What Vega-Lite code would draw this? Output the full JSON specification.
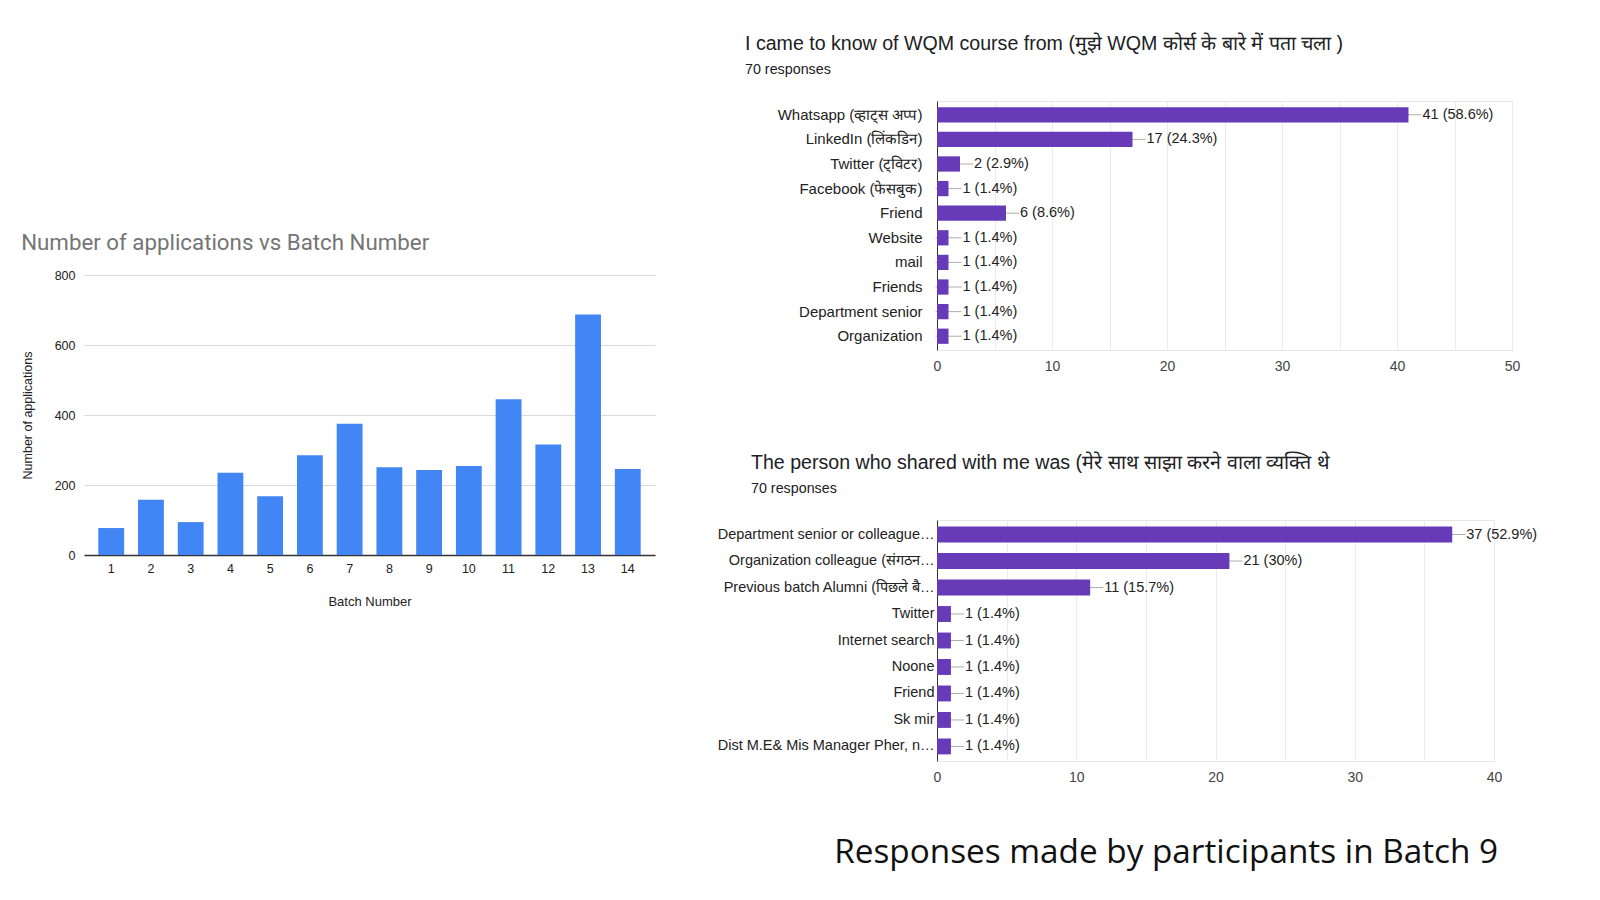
{
  "$schema": "https://vega.github.io/schema/vega-lite/v6.json",
  "background": "white",
  "padding": {"left": 21, "top": 33, "right": 0, "bottom": 20},
  "config": {"view": {"stroke": null}, "font": "Liberation Sans"},
  "datasets": {
    "batches": [
      {"batch": 1, "applications": 77},
      {"batch": 2, "applications": 158},
      {"batch": 3, "applications": 94},
      {"batch": 4, "applications": 235},
      {"batch": 5, "applications": 168},
      {"batch": 6, "applications": 285},
      {"batch": 7, "applications": 375},
      {"batch": 8, "applications": 251},
      {"batch": 9, "applications": 243},
      {"batch": 10, "applications": 254},
      {"batch": 11, "applications": 445},
      {"batch": 12, "applications": 316},
      {"batch": 13, "applications": 687},
      {"batch": 14, "applications": 246}
    ],
    "source": [
      {"source": "Whatsapp (व्हाट्स अप्प)", "responses": 41, "label": "41 (58.6%)"},
      {"source": "LinkedIn (लिंकडिन)", "responses": 17, "label": "17 (24.3%)"},
      {"source": "Twitter (ट्विटर)", "responses": 2, "label": "2 (2.9%)"},
      {"source": "Facebook (फेसबुक)", "responses": 1, "label": "1 (1.4%)"},
      {"source": "Friend", "responses": 6, "label": "6 (8.6%)"},
      {"source": "Website", "responses": 1, "label": "1 (1.4%)"},
      {"source": "mail", "responses": 1, "label": "1 (1.4%)"},
      {"source": "Friends", "responses": 1, "label": "1 (1.4%)"},
      {"source": "Department senior", "responses": 1, "label": "1 (1.4%)"},
      {"source": "Organization", "responses": 1, "label": "1 (1.4%)"}
    ],
    "person": [
      {"person": "Department senior or colleague…", "responses": 37, "label": "37 (52.9%)"},
      {"person": "Organization colleague (संगठन…", "responses": 21, "label": "21 (30%)"},
      {"person": "Previous batch Alumni (पिछले बै…", "responses": 11, "label": "11 (15.7%)"},
      {"person": "Twitter", "responses": 1, "label": "1 (1.4%)"},
      {"person": "Internet search", "responses": 1, "label": "1 (1.4%)"},
      {"person": "Noone", "responses": 1, "label": "1 (1.4%)"},
      {"person": "Friend", "responses": 1, "label": "1 (1.4%)"},
      {"person": "Sk mir", "responses": 1, "label": "1 (1.4%)"},
      {"person": "Dist M.E& Mis Manager Pher, n…", "responses": 1, "label": "1 (1.4%)"}
    ]
  },
  "spacing": 61,
  "hconcat": [
    {
      "spacing": 0,
      "vconcat": [
        {
          "width": 1,
          "height": 130,
          "data": {"values": []},
          "mark": {"type": "point", "opacity": 0},
          "encoding": {}
        },
        {
          "data": {"name": "batches"},
          "width": 571,
          "height": 280,
          "title": {
            "text": "Number of applications vs Batch Number",
            "anchor": "start",
            "frame": "bounds",
            "font": "Roboto",
            "fontSize": 22.3,
            "fontWeight": "normal",
            "color": "#757575",
            "offset": 15
          },
          "mark": {"type": "bar", "color": "#4285f4"},
          "encoding": {
            "x": {
              "field": "batch",
              "type": "ordinal",
              "title": "Batch Number",
              "scale": {"paddingInner": 0.35, "paddingOuter": 0.36},
              "axis": {
                "labelAngle": 0,
                "domainColor": "#333333",
                "domainWidth": 1.5,
                "ticks": false,
                "labelPadding": 7,
                "labelFontSize": 12.5,
                "labelColor": "#222222",
                "titleFontSize": 13,
                "titleFontWeight": "normal",
                "titleColor": "#222222",
                "titlePadding": 21
              }
            },
            "y": {
              "field": "applications",
              "type": "quantitative",
              "title": "Number of applications",
              "scale": {"domain": [0, 800]},
              "axis": {
                "values": [0, 200, 400, 600, 800],
                "domain": false,
                "ticks": false,
                "gridColor": "#d9d9d9",
                "labelPadding": 9,
                "labelFontSize": 12.5,
                "labelColor": "#222222",
                "titleFontSize": 12.5,
                "titleFontWeight": "normal",
                "titleColor": "#222222",
                "titlePadding": 20
              }
            }
          }
        }
      ]
    },
    {
      "spacing": 78,
      "title": {
        "text": "Responses made by participants in Batch 9",
        "orient": "bottom",
        "anchor": "middle",
        "frame": "bounds",
        "font": "Open Sans",
        "fontSize": 33.3,
        "fontWeight": "normal",
        "color": "#111111",
        "offset": 52,
        "dx": 39
      },
      "vconcat": [
        {
          "data": {"name": "source"},
          "width": 575,
          "height": 249,
          "view": {"stroke": "#e6e6e6"},
          "title": {
            "text": "I came to know of WQM course from  (मुझे WQM कोर्स के बारे में पता चला )",
            "subtitle": "70 responses",
            "anchor": "start",
            "frame": "group",
            "dx": -192,
            "fontSize": 19.6,
            "fontWeight": "normal",
            "color": "#202124",
            "subtitleFontSize": 14.3,
            "subtitleColor": "#202124",
            "subtitlePadding": 8,
            "offset": 23
          },
          "encoding": {
            "y": {
              "field": "source",
              "type": "nominal",
              "sort": null,
              "title": null,
              "scale": {"paddingInner": 0.38, "paddingOuter": 0.25},
              "axis": {
                "domainColor": "#333333",
                "ticks": false,
                "labelPadding": 15,
                "labelFontSize": 15,
                "labelColor": "#222222",
                "labelLimit": 300
              }
            },
            "x": {
              "field": "responses",
              "type": "quantitative",
              "title": null,
              "scale": {"domain": [0, 50]},
              "axis": {
                "values": [0, 5, 10, 15, 20, 25, 30, 35, 40, 45, 50],
                "labelExpr": "datum.value % 10 === 0 ? datum.label : ''",
                "labelFlush": false,
                "domain": false,
                "ticks": false,
                "gridColor": "#ebebeb",
                "labelFontSize": 14,
                "labelColor": "#444444",
                "labelPadding": 9
              }
            }
          },
          "layer": [
            {"mark": {"type": "tick", "orient": "horizontal", "size": 26, "thickness": 1, "color": "#8a8a8a"}},
            {"mark": {"type": "bar", "color": "#673ab7"}},
            {
              "mark": {"type": "text", "align": "left", "baseline": "middle", "dx": 14, "fontSize": 14.5, "color": "#222222"},
              "encoding": {"text": {"field": "label"}}
            }
          ]
        },
        {
          "data": {"name": "person"},
          "width": 557,
          "height": 241,
          "view": {"stroke": "#e6e6e6"},
          "title": {
            "text": "The person who shared with me was (मेरे साथ साझा करने वाला व्यक्ति  थे",
            "subtitle": "70 responses",
            "anchor": "start",
            "frame": "group",
            "dx": -186,
            "fontSize": 19.6,
            "fontWeight": "normal",
            "color": "#202124",
            "subtitleFontSize": 14.3,
            "subtitleColor": "#202124",
            "subtitlePadding": 8,
            "offset": 23
          },
          "encoding": {
            "y": {
              "field": "person",
              "type": "nominal",
              "sort": null,
              "title": null,
              "scale": {"paddingInner": 0.4, "paddingOuter": 0.25},
              "axis": {
                "domainColor": "#333333",
                "ticks": false,
                "labelPadding": 3,
                "labelFontSize": 14.5,
                "labelColor": "#222222",
                "labelLimit": 300
              }
            },
            "x": {
              "field": "responses",
              "type": "quantitative",
              "title": null,
              "scale": {"domain": [0, 40]},
              "axis": {
                "values": [0, 5, 10, 15, 20, 25, 30, 35, 40],
                "labelExpr": "datum.value % 10 === 0 ? datum.label : ''",
                "labelFlush": false,
                "domain": false,
                "ticks": false,
                "gridColor": "#ebebeb",
                "labelFontSize": 14,
                "labelColor": "#444444",
                "labelPadding": 9
              }
            }
          },
          "layer": [
            {"mark": {"type": "tick", "orient": "horizontal", "size": 26, "thickness": 1, "color": "#8a8a8a"}},
            {"mark": {"type": "bar", "color": "#673ab7"}},
            {
              "mark": {"type": "text", "align": "left", "baseline": "middle", "dx": 14, "fontSize": 14.5, "color": "#222222"},
              "encoding": {"text": {"field": "label"}}
            }
          ]
        }
      ]
    }
  ]
}
